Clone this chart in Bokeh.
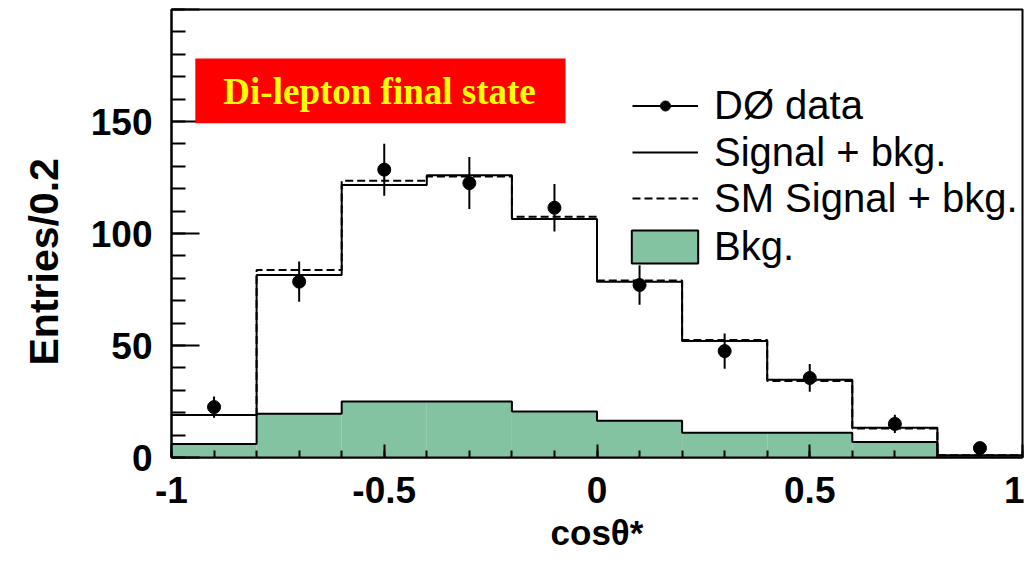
from bokeh.plotting import figure
from bokeh.models import (Range1d, SingleIntervalTicker, CustomJSTickFormatter, Legend,
                          LegendItem, ColumnDataSource, BoxAnnotation, Label, Title)
from bokeh.embed import file_html
from bokeh.resources import INLINE

# ---- data ----
bin_edges = [-1.0, -0.8, -0.6, -0.4, -0.2, 0.0, 0.2, 0.4, 0.6, 0.8, 1.0]
bin_centers = [-0.9, -0.7, -0.5, -0.3, -0.1, 0.1, 0.3, 0.5, 0.7, 0.9]
data_counts = [22.5, 78.5, 128.5, 122.5, 111.5, 77.0, 47.5, 35.5, 15.0, 4.2]
data_errors = [4.7, 9.0, 11.6, 11.6, 10.6, 8.8, 7.9, 6.2, 4.1, 2.0]
sig_bkg = [19.0, 81.5, 121.7, 126.0, 106.5, 78.5, 52.0, 34.7, 13.3, 1.0]
sm_sig_bkg = [19.0, 83.7, 123.6, 125.5, 107.5, 79.0, 52.5, 34.2, 13.0, 1.0]
bkg = [6.0, 19.5, 25.0, 25.0, 20.5, 16.4, 11.0, 11.0, 6.9, 0.0]

GREEN = "#84c3a2"

p = figure(width=1024, height=556, output_backend="svg", toolbar_location=None,
           x_range=Range1d(-1, 1), y_range=Range1d(0, 200),
           min_border_left=171, min_border_right=2, min_border_top=9, min_border_bottom=99)
p.background_fill_color = "white"
p.border_fill_color = "white"
p.outline_line_color = "black"
p.outline_line_width = 2
p.xgrid.visible = False
p.ygrid.visible = False

# background histogram (filled)
src_bkg = ColumnDataSource(dict(left=bin_edges[:-1], right=bin_edges[1:], top=bkg))
p.quad(left="left", right="right", bottom=0, top="top", source=src_bkg,
       fill_color=GREEN, line_color=None)
p.step(x=bin_edges, y=bkg + [bkg[-1]], mode="after", line_color="black", line_width=2)

# signal + bkg (solid)
r_sig = p.step(x=bin_edges, y=sig_bkg + [sig_bkg[-1]], mode="after",
               line_color="black", line_width=2)
# SM signal + bkg (dashed)
r_sm = p.step(x=bin_edges, y=sm_sig_bkg + [sm_sig_bkg[-1]], mode="after",
              line_color="black", line_width=2, line_dash="8 4")

# data with errors
lo = [c - e for c, e in zip(data_counts, data_errors)]
hi = [c + e for c, e in zip(data_counts, data_errors)]
r_err = p.segment(x0=bin_centers, y0=lo, x1=bin_centers, y1=hi, line_color="black", line_width=2)
r_pts = p.scatter(x=bin_centers, y=data_counts, size=13, fill_color="black", line_color="black")

# legend-only area glyph for Bkg. (a single undefined row: nothing is drawn in the plot)
nan = float("nan")
r_bkg_leg = p.quad(left=[nan], right=[nan], top=[nan], bottom=[nan], fill_color=GREEN,
                   line_color="black", line_width=2)

# ---- axes ----
xa = p.xaxis[0]
xa.ticker = SingleIntervalTicker(interval=0.5, num_minor_ticks=5)
xa.formatter = CustomJSTickFormatter(code="return tick.toString();")
xa.major_tick_in = 13
xa.major_tick_out = 0
xa.minor_tick_in = 7
xa.minor_tick_out = 0
xa.major_label_standoff = 19
xa.axis_label = "cosθ*"
xa.axis_label_standoff = 7
xa.axis_label_text_font_size = "35px"

ya = p.yaxis[0]
ya.ticker = SingleIntervalTicker(interval=50, num_minor_ticks=5)
ya.formatter = CustomJSTickFormatter(code="return tick >= 200 ? '' : tick.toString();")
ya.major_tick_in = 28
ya.major_tick_out = 0
ya.minor_tick_in = 14
ya.minor_tick_out = 0
ya.major_label_standoff = 19

for ax in (xa, ya):
    ax.axis_line_color = "black"
    ax.axis_line_width = 2
    ax.major_tick_line_color = "black"
    ax.minor_tick_line_color = "black"
    ax.major_tick_line_width = 2
    ax.minor_tick_line_width = 2
    ax.major_label_text_font = "Liberation Sans"
    ax.major_label_text_font_style = "bold"
    ax.major_label_text_font_size = "37px"
    ax.major_label_text_color = "black"
    ax.axis_label_text_font = "Liberation Sans"
    ax.axis_label_text_font_style = "bold"
    ax.axis_label_text_color = "black"

# y-axis title (a little below the frame's middle, as in the reference)
p.add_layout(Title(text="Entries/0.2", align="left", offset=92, standoff=37,
                   vertical_align="top",
                   text_font="Liberation Sans", text_font_style="bold",
                   text_font_size="41px", text_color="black"), "left")

# ---- title box ----
p.add_layout(BoxAnnotation(left=-0.944, right=-0.074, bottom=149.2, top=178.1,
                           fill_color="#ff0000", fill_alpha=1.0, line_color=None))
p.add_layout(Label(x=-0.511, y=163.3, text="Di-lepton final state", text_align="center",
                   text_baseline="alphabetic", text_font="Liberation Serif",
                   text_font_style="bold", text_font_size="37px", text_color="#ffff00"))

# ---- legends ----
def make_legend(items, loc, gw, gh, standoff):
    leg = Legend(items=items, location=loc, glyph_width=gw, glyph_height=gh,
                 label_height=46, label_standoff=standoff, spacing=0, padding=0, margin=0,
                 border_line_color=None, background_fill_alpha=0,
                 label_text_font="Liberation Sans", label_text_font_size="40px",
                 label_text_color="black")
    p.add_layout(leg)

make_legend([LegendItem(label="DØ data", renderers=[r_err, r_pts])], (461, 329), 66, 25, 16)
make_legend([LegendItem(label="Signal + bkg.", renderers=[r_sig]),
             LegendItem(label="SM Signal + bkg.", renderers=[r_sm])], (461, 236), 66, 46, 16)
make_legend([LegendItem(label="Bkg.", renderers=[r_bkg_leg])], (452, 188), 83, 41, 8)

open("out.html", "w").write(file_html(p, INLINE))
